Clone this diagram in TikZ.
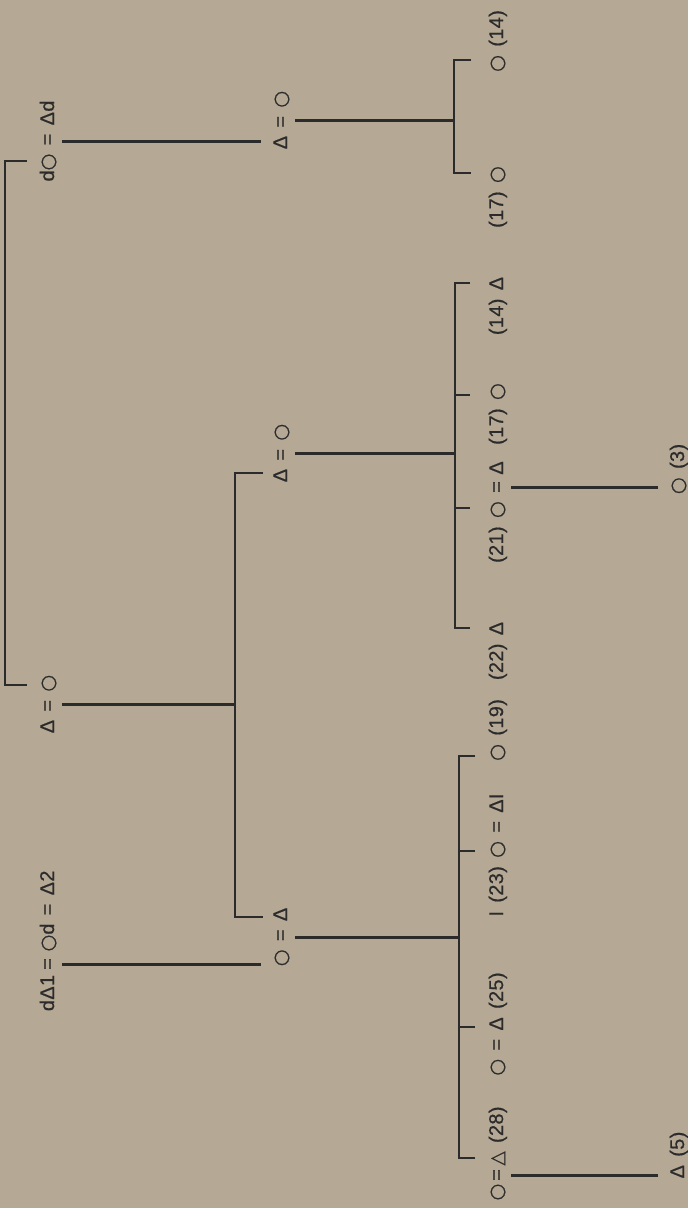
\documentclass[tikz,border=0pt]{standalone}
\usepackage{fontspec}
\setmainfont{Liberation Sans}[FakeBold=0.6,LetterSpace=2]
\newfontfamily\shapefont{DejaVu Sans}[FakeBold=0.5]
\usetikzlibrary{calc}
\definecolor{paper}{HTML}{B5A894}
\definecolor{ink}{HTML}{2B2B2B}
\newcommand{\F}{{\shapefont\fontsize{11}{9}\selectfont ○}}
\newcommand{\M}{Δ}
\newcommand{\Mt}{{\shapefont\fontsize{10.5}{10}\selectfont △}}
\newcommand{\kinfont}{\fontsize{11.3}{13}\selectfont\spaceskip 0.42em\relax}
\tikzset{
 kin/.style={rotate=90,inner sep=0pt,text height=8pt,text depth=0pt,
   text=ink,font=\kinfont},
 kin line/.style={draw=ink,line width=1.7pt},
 kin marr/.style={kin line,shorten <=1.6mm,shorten >=2.4mm},
 kin desc/.style={kin line,shorten <=1.6mm},
 kin brk/.style={draw=ink,line width=1.3pt}
}
\begin{document}
\begin{tikzpicture}[x=0.02cm,y=-0.02cm]
\fill[paper] (0,0) rectangle (688,1208);
% spines of the sibling brackets
\coordinate (s1) at (454,0);
\coordinate (s2) at (455,0);
\coordinate (s3) at (235,0);
\coordinate (s4) at (459,0);
% first column
\node[kin] (a1) at (47,141) {d\F{} = \M d};
\node[kin] (a2) at (47,704) {\M{} = \F};
\node[kin] (a3l) at (47,993) {d\M1};
\node[kin] (a3e) at (47,964) {=};
\node[kin] (a3r) at (47,911) {\F d = \M2};
% second column
\node[kin] (b1) at (280,120) {\M{} = \F};
\node[kin] (b2) at (280,453) {\M{} = \F};
\node[kin] (b3) at (280,937) {\F{} = \M};
% third column
\node[kin] (c1) at (496,41) {\F{} (14)};
\node[kin] (c2) at (496,197) {(17) \F};
\node[kin] (c3) at (496,306) {(14) \M};
\node[kin] (c4a) at (496,414) {(17) \F};
\node[kin] (c4m) at (496,468) {\M};
\node[kin] (c4e) at (496,487) {=};
\node[kin] (c4w) at (496,532) {(21) \F};
\node[kin] (c5) at (496,651) {(22) \M};
\node[kin] (c6) at (496,730) {\F{} (19)};
\node[kin] (c7) at (496,855) {I (23) \F{} = \M I};
\node[kin] (c8) at (496,1024) {\F{} = \M{} (25)};
\node[kin] (c9f) at (496,1192) {\F};
\node[kin] (c9e) at (496,1175) {=};
\node[kin] (c9r) at (496,1136) {\Mt{} (28)};
% fourth column
\node[kin] (d1) at (677,469) {\F{} (3)};
\node[kin] (d2) at (677,1155) {\M{} (5)};
% marriages to children
\draw[kin marr] (a1.south) -- (a1.south -| b1.north);
\draw[kin desc] (b1.south) -- (b1.south -| s1);
\draw[kin desc] (b2.south) -- (b2.south -| s2);
\draw[kin desc] (a2.south) -- (a2.south -| s3);
\draw[kin marr] (a3e.south) -- (a3e.south -| b3.north);
\draw[kin desc] (b3.south) -- (b3.south -| s4);
\draw[kin marr] (c4e.south) -- (c4e.south -| d1.north);
\draw[kin marr] (c9e.south) -- (c9e.south -| d2.north);
% sibling brackets
\draw[kin brk] (27,161) -- (5,161) -- (5,685) -- (27,685);
\draw[kin brk] (471,60) -- (s1 |- 0,60) -- (s1 |- 0,173) -- (471,173);
\draw[kin brk] (470,283) -- (s2 |- 0,283) -- (s2 |- 0,628) -- (470,628);
\foreach \y in {395,508}
  \draw[kin brk] (s2 |- 0,\y) -- (470,\y);
\draw[kin brk] (263,473) -- (s3 |- 0,473) -- (s3 |- 0,917) -- (263,917);
\draw[kin brk] (475,756) -- (s4 |- 0,756) -- (s4 |- 0,1158) -- (475,1158);
\foreach \y in {851,1027}
  \draw[kin brk] (s4 |- 0,\y) -- (475,\y);
\end{tikzpicture}
\end{document}
